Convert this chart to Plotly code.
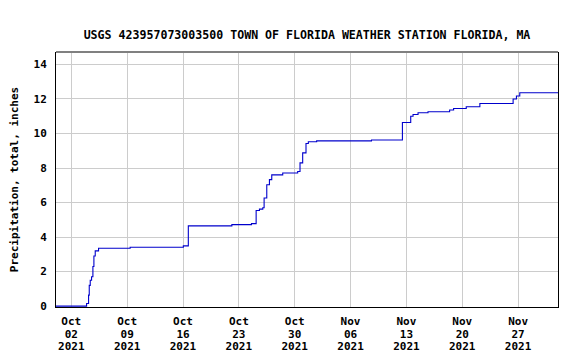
import plotly.graph_objects as go
import pandas as pd

# Cumulative precipitation readings (time, inches)
times = [
    "2021-09-30 02:00", "2021-10-03 18:00", "2021-10-03 22:00", "2021-10-04 04:00",
    "2021-10-04 06:00", "2021-10-04 09:00", "2021-10-04 13:00", "2021-10-04 17:00",
    "2021-10-04 20:00", "2021-10-05 00:00", "2021-10-05 10:00", "2021-10-09 09:00",
    "2021-10-16 01:00", "2021-10-16 16:00", "2021-10-22 03:00", "2021-10-24 14:00",
    "2021-10-25 04:00", "2021-10-25 14:00", "2021-10-26 00:00", "2021-10-26 04:00",
    "2021-10-26 12:00", "2021-10-26 20:00", "2021-10-27 03:00", "2021-10-28 12:00",
    "2021-10-30 09:00", "2021-10-30 16:00", "2021-10-31 00:00", "2021-10-31 10:00",
    "2021-10-31 17:00", "2021-11-01 18:00", "2021-11-08 15:00", "2021-11-12 12:00",
    "2021-11-13 13:00", "2021-11-13 20:00", "2021-11-14 11:00", "2021-11-15 17:00",
    "2021-11-18 10:00", "2021-11-18 22:00", "2021-11-20 12:00", "2021-11-22 05:00",
    "2021-11-26 09:00", "2021-11-26 19:00", "2021-11-27 05:00", "2021-11-27 13:00",
    "2021-12-02 00:00",
]
precip = [
    0.00, 0.00, 0.15, 0.64,
    1.20, 1.50, 1.70, 2.30,
    2.90, 3.20, 3.35, 3.41,
    3.49, 4.65, 4.72, 4.78,
    5.54, 5.62, 5.70, 6.26,
    7.03, 7.33, 7.60, 7.71,
    7.80, 8.30, 8.88, 9.42,
    9.52, 9.57, 9.62, 10.64,
    11.00, 11.10, 11.20, 11.26,
    11.36, 11.45, 11.55, 11.74,
    12.00, 12.17, 12.36, 12.36,
    12.36,
]

title_text = "USGS 423957073003500 TOWN OF FLORIDA WEATHER STATION FLORIDA, MA"
y_title = "Precipitation, total, inches"
y_ticks = [0, 2, 4, 6, 8, 10, 12, 14]
x_tick0 = "2021-10-02"
x_range = ["2021-09-30 02:00", "2021-12-02 00:00"]
y_range = [-0.05, 14.72]

FONT = "DejaVu Sans Mono"
WEEK_MS = 7 * 86400000


def tfont(size=11):
    return dict(family=FONT, size=size, color="black", weight="bold")


fig = go.Figure()
fig.add_trace(go.Scatter(
    x=pd.to_datetime(times), y=precip, mode="lines",
    line=dict(color="#0000CC", width=1.1, shape="hv"),
    hoverinfo="skip", showlegend=False,
))

fig.update_layout(
    width=579, height=358,
    margin=dict(l=56, r=21, t=52, b=51, autoexpand=False),
    paper_bgcolor="white", plot_bgcolor="white",
    font=tfont(),
    title=dict(text=title_text, x=0.5, xref="paper", y=1 - 35 / 358,
               yref="container", yanchor="middle", xanchor="center",
               font=tfont(11.6)),
    showlegend=False,
    # three stacked label rows: month / day / year
    xaxis=dict(
        type="date", range=x_range, tick0=x_tick0, dtick=WEEK_MS,
        tickformat="%b", showgrid=True, gridcolor="#CCCCCC", gridwidth=1,
        showline=True, linecolor="black", linewidth=1,
        ticks="", zeroline=False, ticklabelstandoff=4, automargin=False,
        tickfont=tfont(),
    ),
    xaxis2=dict(
        type="date", range=x_range, tick0=x_tick0, dtick=WEEK_MS, overlaying="x",
        anchor="y", side="bottom",
        tickformat="%d", showgrid=False, showline=False, ticks="", zeroline=False,
        ticklabelstandoff=19, automargin=False, tickfont=tfont(),
    ),
    xaxis3=dict(
        type="date", range=x_range, tick0=x_tick0, dtick=WEEK_MS, overlaying="x",
        anchor="y", side="bottom",
        tickformat="%Y", showgrid=False, showline=False, ticks="", zeroline=False,
        ticklabelstandoff=31, automargin=False, tickfont=tfont(),
    ),
    yaxis=dict(
        range=y_range, tickvals=y_ticks, showgrid=True, gridcolor="#CCCCCC", gridwidth=1,
        showline=True, linecolor="black", linewidth=1, mirror=True,
        ticks="", zeroline=False, ticklabelstandoff=6, automargin=False,
        title=dict(text=y_title, standoff=12, font=tfont()),
        tickfont=tfont(),
    ),
)

# invisible carriers so the overlay label axes are drawn
for ax in ("x2", "x3"):
    fig.add_trace(go.Scatter(x=pd.to_datetime(x_range), y=[None, None], xaxis=ax, yaxis="y",
                             mode="lines", hoverinfo="skip", showlegend=False))

# grey top border of the frame
fig.add_shape(type="line", xref="paper", yref="paper", x0=0, x1=1, y0=1, y1=1,
              line=dict(color="#808080", width=2))

fig.write_html("out.html", config={"displayModeBar": False},
               post_script="document.body.style.margin='0';document.body.style.padding='0';")
